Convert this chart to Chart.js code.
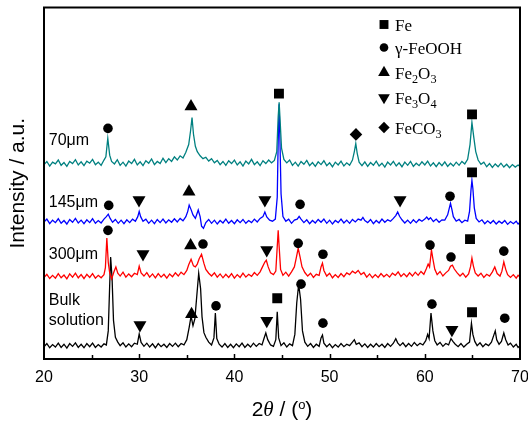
<!DOCTYPE html>
<html>
<head>
<meta charset="utf-8">
<script src="https://cdn.jsdelivr.net/npm/chart.js@4.4.0/dist/chart.umd.min.js"></script>
<style>
  html, body { margin: 0; padding: 0; background: #fff; }
  #wrap { width: 528px; height: 422px; }
</style>
</head>
<body>
<div id="wrap"><canvas id="xrd" width="528" height="422"></canvas></div>
<script>
// XRD patterns, intensity in a.u. (curves already offset as in the figure)
const xTicks = [20, 30, 40, 50, 60, 70];

const seriesNames = ['70\u03bcm', '145\u03bcm', '300\u03bcm', 'Bulk solution'];
const seriesColors = ['#008080', '#0000ff', '#ff0000', '#000000'];

const pattern70 = [[20.0,553],[20.3,562],[20.6,549],[20.9,560],[21.2,555],[21.5,566],[21.8,551],[22.1,559],[22.4,548],[22.7,562],[23.0,556],[23.3,567],[23.6,552],[23.9,561],[24.2,550],[24.5,563],[24.8,557],[25.1,568],[25.4,553],[25.7,560],[26.0,551],[26.3,566],[26.5,575],[26.7,628],[26.9,580],[27.1,562],[27.4,555],[27.7,567],[28.0,551],[28.3,560],[28.6,549],[28.9,563],[29.2,556],[29.5,568],[29.8,552],[30.1,561],[30.4,550],[30.7,564],[31.0,557],[31.3,569],[31.6,553],[31.9,562],[32.2,556],[32.5,571],[32.8,559],[33.1,570],[33.4,562],[33.7,575],[34.0,566],[34.3,578],[34.6,572],[34.9,588],[35.2,610],[35.4,650],[35.55,687],[35.7,640],[35.9,605],[36.1,590],[36.4,578],[36.7,570],[37.0,574],[37.3,563],[37.6,570],[37.9,558],[38.2,565],[38.5,553],[38.8,562],[39.1,551],[39.4,564],[39.7,556],[40.0,566],[40.3,552],[40.6,561],[40.9,549],[41.2,563],[41.5,555],[41.8,568],[42.1,553],[42.4,561],[42.7,550],[43.0,564],[43.3,556],[43.6,566],[43.9,558],[44.2,565],[44.45,590],[44.6,690],[44.7,730],[44.8,680],[44.95,600],[45.2,568],[45.5,558],[45.8,566],[46.1,551],[46.4,560],[46.7,549],[47.0,562],[47.3,554],[47.6,565],[47.9,550],[48.2,559],[48.5,548],[48.8,561],[49.1,553],[49.4,564],[49.7,550],[50.0,558],[50.3,547],[50.6,560],[50.9,552],[51.2,563],[51.5,549],[51.8,558],[52.1,551],[52.4,566],[52.6,590],[52.75,613],[52.9,585],[53.1,560],[53.4,550],[53.7,561],[54.0,548],[54.3,559],[54.6,551],[54.9,563],[55.2,549],[55.5,557],[55.8,546],[56.1,560],[56.4,552],[56.7,562],[57.0,549],[57.3,558],[57.6,547],[57.9,560],[58.2,551],[58.5,562],[58.8,548],[59.1,557],[59.4,550],[59.7,561],[60.0,552],[60.3,563],[60.6,549],[60.9,558],[61.2,547],[61.5,559],[61.8,550],[62.1,561],[62.4,548],[62.7,557],[63.0,549],[63.3,560],[63.6,551],[63.9,562],[64.2,555],[64.5,568],[64.75,610],[64.95,673],[65.15,630],[65.35,590],[65.6,566],[65.9,554],[66.2,560],[66.5,547],[66.8,556],[67.1,545],[67.4,555],[67.7,547],[68.0,557],[68.3,546],[68.6,554],[68.9,544],[69.2,553],[69.5,546],[69.8,552],[70.0,548]];

const pattern145 = [[20.0,390],[20.3,398],[20.6,385],[20.9,395],[21.2,388],[21.5,399],[21.8,386],[22.1,394],[22.4,384],[22.7,397],[23.0,389],[23.3,400],[23.6,387],[23.9,395],[24.2,385],[24.5,396],[24.8,388],[25.1,399],[25.4,386],[25.7,394],[26.0,387],[26.3,398],[26.55,405],[26.75,412],[26.95,400],[27.2,389],[27.5,397],[27.8,386],[28.1,395],[28.4,385],[28.7,396],[29.0,388],[29.3,398],[29.6,392],[29.85,405],[30.0,420],[30.15,405],[30.4,392],[30.7,398],[31.0,386],[31.3,395],[31.6,385],[31.9,397],[32.2,388],[32.5,398],[32.8,387],[33.1,396],[33.4,389],[33.7,399],[34.0,390],[34.3,400],[34.6,393],[34.9,405],[35.1,420],[35.25,438],[35.45,425],[35.65,410],[35.9,400],[36.05,412],[36.2,424],[36.4,405],[36.55,378],[36.75,372],[37.0,388],[37.3,397],[37.6,386],[37.9,395],[38.2,384],[38.5,394],[38.8,387],[39.1,398],[39.4,386],[39.7,394],[40.0,385],[40.3,396],[40.6,388],[40.9,397],[41.2,386],[41.5,394],[41.8,388],[42.1,398],[42.4,390],[42.7,400],[43.0,405],[43.2,418],[43.4,404],[43.7,395],[44.0,392],[44.3,398],[44.5,460],[44.6,620],[44.7,725],[44.8,600],[44.9,470],[45.1,405],[45.4,392],[45.7,398],[46.0,386],[46.3,395],[46.6,398],[46.8,406],[47.0,398],[47.3,388],[47.6,396],[47.9,385],[48.2,394],[48.5,387],[48.8,397],[49.1,389],[49.4,398],[49.7,386],[50.0,395],[50.3,384],[50.6,394],[50.9,388],[51.2,398],[51.5,387],[51.8,395],[52.1,386],[52.4,397],[52.7,390],[53.0,398],[53.3,395],[53.5,403],[53.7,394],[54.0,388],[54.3,397],[54.6,385],[54.9,394],[55.2,387],[55.5,398],[55.8,389],[56.1,396],[56.4,392],[56.7,400],[56.95,408],[57.15,418],[57.35,406],[57.6,396],[57.9,387],[58.2,395],[58.5,386],[58.8,396],[59.1,388],[59.4,397],[59.7,392],[60.0,398],[60.2,404],[60.4,397],[60.6,402],[60.9,391],[61.2,398],[61.5,389],[61.8,396],[62.1,395],[62.4,410],[62.6,432],[62.7,443],[62.85,425],[63.0,405],[63.3,392],[63.6,397],[63.9,388],[64.2,395],[64.5,392],[64.7,420],[64.85,480],[64.95,508],[65.05,485],[65.2,430],[65.4,400],[65.7,390],[66.0,396],[66.3,385],[66.6,393],[66.9,386],[67.2,394],[67.5,384],[67.8,392],[68.1,386],[68.4,394],[68.7,383],[69.0,391],[69.3,385],[69.6,392],[69.8,384],[70.0,389]];

const pattern300 = [[20.0,232],[20.3,241],[20.6,229],[20.9,238],[21.2,230],[21.5,243],[21.8,231],[22.1,239],[22.4,228],[22.7,242],[23.0,233],[23.3,244],[23.6,231],[23.9,240],[24.2,229],[24.5,241],[24.8,232],[25.1,243],[25.4,230],[25.7,238],[26.0,231],[26.3,240],[26.45,260],[26.6,344],[26.75,275],[26.9,245],[27.1,228],[27.35,248],[27.55,262],[27.75,244],[28.0,236],[28.3,247],[28.6,233],[28.9,242],[29.2,234],[29.5,244],[29.8,240],[30.0,264],[30.2,245],[30.5,236],[30.8,246],[31.1,233],[31.4,242],[31.7,231],[32.0,243],[32.3,233],[32.6,241],[32.9,230],[33.2,242],[33.5,234],[33.8,245],[34.1,236],[34.4,247],[34.7,240],[35.0,252],[35.2,268],[35.45,284],[35.7,265],[35.9,262],[36.1,270],[36.3,285],[36.55,298],[36.8,272],[37.0,255],[37.3,244],[37.6,236],[37.9,245],[38.2,233],[38.5,242],[38.8,231],[39.1,241],[39.4,232],[39.7,243],[40.0,230],[40.3,240],[40.6,232],[40.9,244],[41.2,233],[41.5,241],[41.8,235],[42.1,246],[42.4,238],[42.7,248],[42.95,262],[43.2,276],[43.35,281],[43.55,262],[43.8,245],[44.1,240],[44.35,250],[44.5,320],[44.6,366],[44.7,320],[44.85,255],[45.1,238],[45.4,247],[45.7,236],[46.0,248],[46.3,262],[46.5,288],[46.7,315],[46.9,290],[47.1,262],[47.4,246],[47.7,236],[48.0,244],[48.3,232],[48.6,241],[48.9,238],[49.1,262],[49.25,273],[49.4,252],[49.7,236],[50.0,244],[50.3,231],[50.6,240],[50.9,232],[51.2,243],[51.5,234],[51.8,245],[52.1,240],[52.4,250],[52.7,244],[53.0,252],[53.3,240],[53.6,246],[53.9,233],[54.2,242],[54.5,231],[54.8,240],[55.1,232],[55.4,243],[55.7,234],[56.0,241],[56.3,233],[56.6,244],[56.9,238],[57.2,248],[57.5,235],[57.8,243],[58.1,234],[58.4,245],[58.7,236],[59.0,247],[59.3,238],[59.6,249],[59.9,241],[60.15,256],[60.35,270],[60.5,262],[60.7,310],[60.85,285],[61.05,255],[61.3,240],[61.6,249],[61.9,236],[62.2,245],[62.5,252],[62.7,264],[62.9,267],[63.1,256],[63.4,245],[63.7,236],[64.0,244],[64.3,233],[64.6,242],[64.8,262],[64.95,287],[65.1,265],[65.3,245],[65.6,236],[65.9,244],[66.2,232],[66.5,241],[66.8,236],[67.1,248],[67.35,262],[67.6,243],[67.9,236],[68.1,250],[68.3,276],[68.5,255],[68.7,240],[69.0,232],[69.3,240],[69.6,230],[69.8,238],[70.0,233]];

const patternBulk = [[20.0,35],[20.3,44],[20.6,32],[20.9,41],[21.2,34],[21.5,45],[21.8,33],[22.1,42],[22.4,31],[22.7,44],[23.0,36],[23.3,46],[23.6,33],[23.9,42],[24.2,32],[24.5,44],[24.8,35],[25.1,45],[25.4,33],[25.7,41],[26.0,34],[26.3,43],[26.55,40],[26.75,80],[26.9,210],[27.0,290],[27.15,230],[27.3,110],[27.5,62],[27.75,48],[28.0,38],[28.3,46],[28.6,34],[28.9,43],[29.2,35],[29.5,45],[29.8,42],[30.0,71],[30.2,47],[30.5,36],[30.8,45],[31.1,34],[31.4,43],[31.7,32],[32.0,44],[32.3,35],[32.6,42],[32.9,33],[33.2,44],[33.5,36],[33.8,45],[34.1,35],[34.4,44],[34.7,40],[35.0,55],[35.25,90],[35.45,122],[35.65,95],[35.85,115],[36.05,180],[36.25,244],[36.45,200],[36.6,120],[36.8,75],[37.0,62],[37.3,48],[37.6,40],[37.85,60],[38.0,131],[38.15,58],[38.4,42],[38.7,34],[39.0,44],[39.3,33],[39.6,42],[39.9,32],[40.2,43],[40.5,35],[40.8,45],[41.1,33],[41.4,42],[41.7,34],[42.0,45],[42.3,36],[42.6,44],[42.9,40],[43.15,62],[43.3,74],[43.5,55],[43.8,40],[44.1,36],[44.35,55],[44.5,134],[44.65,60],[44.9,38],[45.2,46],[45.5,34],[45.8,43],[46.1,38],[46.35,70],[46.55,160],[46.75,212],[46.95,170],[47.15,80],[47.4,48],[47.7,36],[48.0,44],[48.3,33],[48.6,42],[48.9,36],[49.1,60],[49.25,68],[49.4,45],[49.7,35],[50.0,43],[50.3,32],[50.6,41],[50.9,34],[51.2,44],[51.5,35],[51.8,42],[52.1,38],[52.4,48],[52.6,55],[52.8,42],[53.1,46],[53.4,35],[53.7,43],[54.0,33],[54.3,42],[54.6,34],[54.9,44],[55.2,35],[55.5,42],[55.8,33],[56.1,44],[56.4,36],[56.7,45],[56.95,58],[57.15,46],[57.4,38],[57.7,46],[58.0,35],[58.3,44],[58.6,36],[58.9,47],[59.2,38],[59.5,45],[59.8,40],[60.1,52],[60.3,70],[60.45,58],[60.65,131],[60.85,80],[61.05,52],[61.3,40],[61.6,47],[61.9,36],[62.2,44],[62.5,40],[62.75,58],[62.95,50],[63.2,42],[63.5,35],[63.8,44],[64.1,34],[64.4,42],[64.7,48],[64.9,102],[65.05,70],[65.25,50],[65.5,38],[65.8,46],[66.1,35],[66.4,43],[66.7,38],[67.0,48],[67.25,68],[67.4,80],[67.55,55],[67.8,42],[68.05,50],[68.3,74],[68.5,55],[68.75,40],[69.0,45],[69.3,34],[69.6,42],[69.8,33],[70.0,38]];

// phase markers above the reflections [2theta, intensity]
const phaseNames = ['Fe', '\u03b3-FeOOH', 'Fe_2O_3', 'Fe_3O_4', 'FeCO_3'];
const markFe = [[44.68,755],[64.96,696],[64.96,531],[64.75,341],[44.5,173],[64.96,133]];
const markFeOOH = [[26.72,656],[26.8,437],[46.9,440],[62.65,463],[26.72,366],[36.7,327],[46.7,329],[49.3,298],[60.55,324],[62.75,290],[68.3,307],[38.07,151],[47.0,213],[49.3,102],[60.75,156],[68.4,116]];
const markFe2O3 = [[35.44,718],[35.23,476],[35.4,323],[35.5,127]];
const markFe3O4 = [[29.98,452],[43.2,452],[57.4,452],[30.4,299],[43.4,310],[30.08,97],[43.4,109],[62.85,83]];
const markFeCO3 = [[52.77,639]];

const markerStyles = [
  { pointStyle: 'rect', radius: 7, rotation: 0 },
  { pointStyle: 'circle', radius: 4.8, rotation: 0 },
  { pointStyle: 'triangle', radius: 7.5, rotation: 0 },
  { pointStyle: 'triangle', radius: 7.5, rotation: 180 },
  { pointStyle: 'rectRot', radius: 6.3, rotation: 0 }
];

const toXY = arr => arr.map(([x, y]) => ({ x, y }));

const curves = [pattern70, pattern145, pattern300, patternBulk].map((d, i) => ({
  label: seriesNames[i],
  data: toXY(d),
  showLine: true,
  borderColor: seriesColors[i],
  borderWidth: 1.3,
  pointRadius: 0,
  tension: 0,
  order: 2
}));

const marks = [markFe, markFeOOH, markFe2O3, markFe3O4, markFeCO3].map((d, i) => ({
  label: phaseNames[i],
  data: toXY(d),
  showLine: false,
  pointStyle: markerStyles[i].pointStyle,
  pointRadius: markerStyles[i].radius,
  rotation: markerStyles[i].rotation,
  backgroundColor: '#000',
  borderColor: '#000',
  borderWidth: 0,
  order: 0
}));

// draws text where "_d" means subscript digit
function richText(ctx, txt, x, y, size) {
  const parts = txt.split(/(_\d)/).filter(p => p);
  for (const p of parts) {
    if (p[0] === '_') {
      ctx.font = (size * 0.72) + 'px "Liberation Serif", "Times New Roman", serif';
      ctx.fillText(p[1], x, y + size * 0.28);
      x += ctx.measureText(p[1]).width;
    } else {
      ctx.font = size + 'px "Liberation Serif", "Times New Roman", serif';
      ctx.fillText(p, x, y);
      x += ctx.measureText(p).width;
    }
  }
}

const decor = {
  id: 'decor',
  afterDraw(chart) {
    const { ctx, chartArea: a, scales: { x, y } } = chart;
    ctx.save();

    // frame
    ctx.strokeStyle = '#000';
    ctx.lineWidth = 2;
    ctx.strokeRect(a.left, a.top, a.right - a.left, a.bottom - a.top);

    // inward ticks on bottom axis
    ctx.lineWidth = 1.5;
    for (let v = 25; v < 70; v += 5) {
      const px = Math.round(x.getPixelForValue(v)) + 0.5;
      const len = v % 10 === 0 ? 5 : 4;
      ctx.beginPath();
      ctx.moveTo(px, a.bottom);
      ctx.lineTo(px, a.bottom - len);
      ctx.stroke();
    }

    // curve labels
    ctx.fillStyle = '#000';
    ctx.font = '16px "Liberation Sans", Arial, sans-serif';
    ctx.textAlign = 'left';
    ctx.textBaseline = 'middle';
    const lx = x.getPixelForValue(20.5);
    ctx.fillText(seriesNames[0], lx, y.getPixelForValue(622));
    ctx.fillText(seriesNames[1], lx, y.getPixelForValue(446));
    ctx.fillText(seriesNames[2], lx, y.getPixelForValue(298));
    ctx.fillText('Bulk', lx, y.getPixelForValue(165));
    ctx.fillText('solution', lx, y.getPixelForValue(108));

    // legend of phases
    const legX = a.left + 340;
    const legY = [a.top + 17, a.top + 40, a.top + 65, a.top + 90, a.top + 120];
    ctx.textBaseline = 'alphabetic';
    phaseNames.forEach((name, i) => {
      const st = markerStyles[i];
      ctx.fillStyle = '#000';
      if (Chart.helpers && Chart.helpers.drawPoint) {
        Chart.helpers.drawPoint(ctx, { pointStyle: st.pointStyle, radius: st.radius * 0.9, rotation: st.rotation, borderWidth: 0 }, legX, legY[i]);
      }
      richText(ctx, name, legX + 11, legY[i] + 6, 17);
    });

    // y title
    ctx.save();
    ctx.translate(18, (a.top + a.bottom) / 2);
    ctx.rotate(-Math.PI / 2);
    ctx.font = '21px "Liberation Sans", Arial, sans-serif';
    ctx.textAlign = 'center';
    ctx.textBaseline = 'middle';
    ctx.fillText('Intensity / a.u.', 0, 0);
    ctx.restore();

    // x title: 2θ / (°)
    const fs = 21;
    const fN = fs + 'px "Liberation Sans", Arial, sans-serif';
    const fI = 'italic ' + fs + 'px "Liberation Serif", "Times New Roman", serif';
    const fS = '13px "Liberation Sans", Arial, sans-serif';
    const segs = [['2', fN, 0], ['\u03b8', fI, 0], [' / (', fN, 0], ['o', fS, -7], [')', fN, 0]];
    let w = 0;
    segs.forEach(s => { ctx.font = s[1]; w += ctx.measureText(s[0]).width; });
    let tx = (a.left + a.right) / 2 - w / 2;
    const ty = 416;
    ctx.textAlign = 'left';
    ctx.textBaseline = 'alphabetic';
    segs.forEach(s => {
      ctx.font = s[1];
      ctx.fillText(s[0], tx, ty + s[2]);
      tx += ctx.measureText(s[0]).width;
    });

    ctx.restore();
  }
};

new Chart(document.getElementById('xrd'), {
  type: 'scatter',
  data: { datasets: [...marks, ...curves] },
  options: {
    responsive: false,
    animation: false,
    layout: { padding: { top: 7, right: 8, left: 0, bottom: 0 } },
    plugins: { legend: { display: false }, tooltip: { enabled: false } },
    scales: {
      x: {
        type: 'linear',
        min: xTicks[0],
        max: xTicks[xTicks.length - 1],
        afterBuildTicks: s => { s.ticks = xTicks.map(v => ({ value: v })); },
        afterFit: s => { s.height = 63; s.paddingLeft = 0; s.paddingRight = 0; },
        grid: { display: false, drawTicks: false },
        border: { display: false },
        ticks: {
          padding: 9,
          color: '#000',
          font: { family: '"Liberation Sans", Arial, sans-serif', size: 16 }
        }
      },
      y: {
        min: 0,
        max: 1000,
        afterFit: s => { s.width = 44; s.paddingTop = 0; s.paddingBottom = 0; },
        grid: { display: false, drawTicks: false },
        border: { display: false },
        ticks: { display: false }
      }
    }
  },
  plugins: [decor]
});
</script>
</body>
</html>
